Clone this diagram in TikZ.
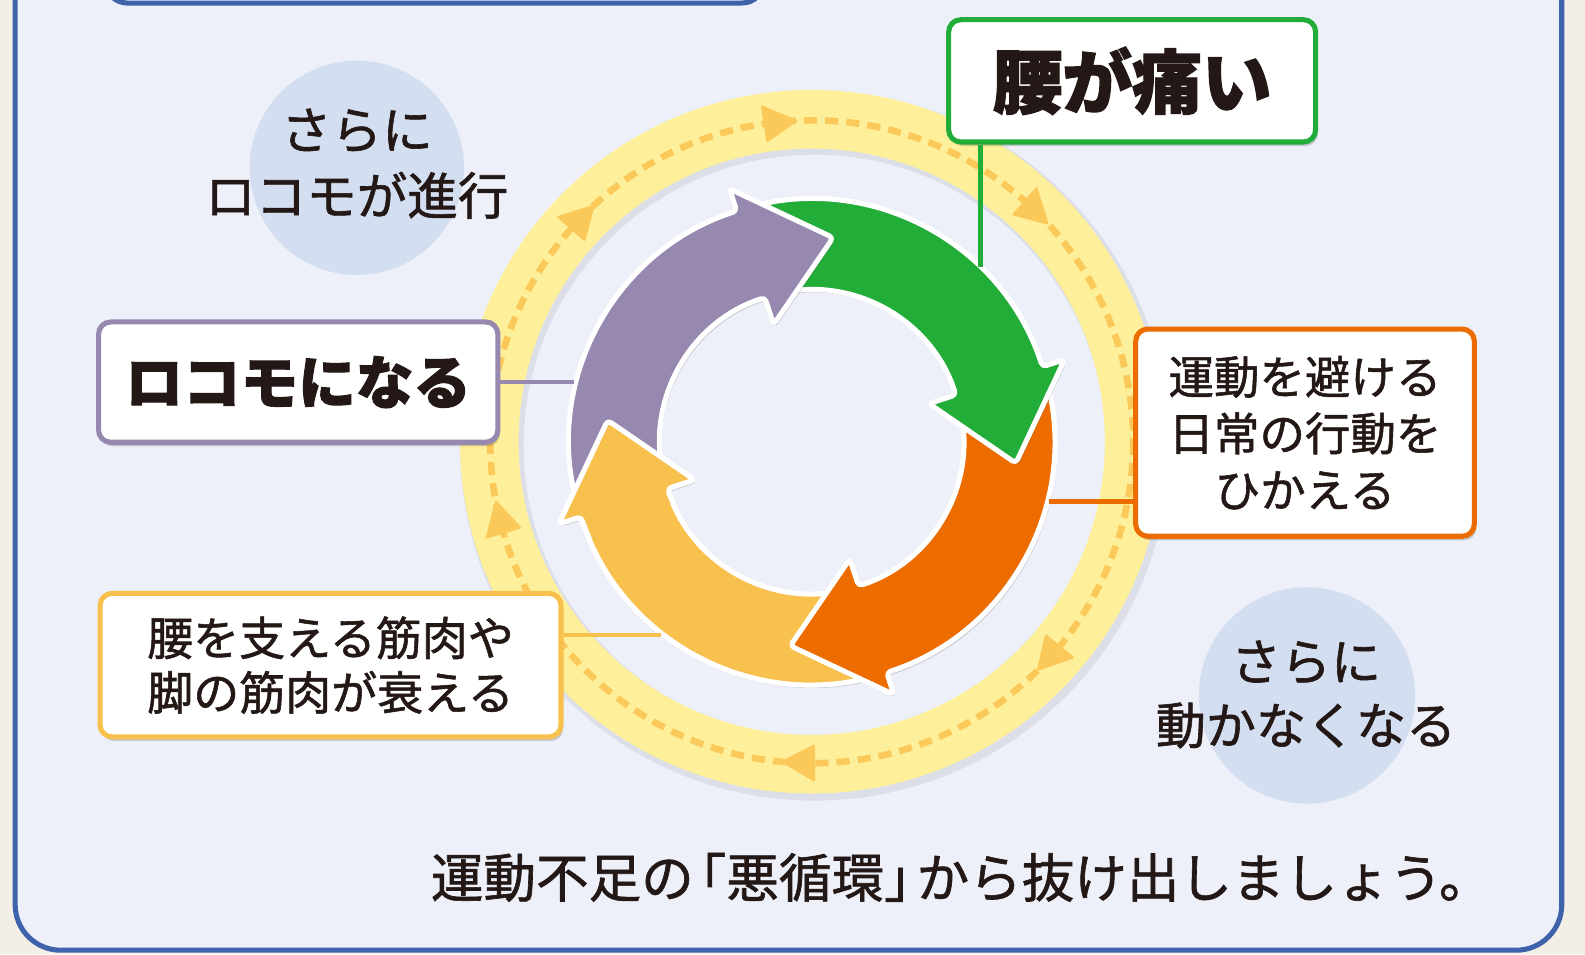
\documentclass[tikz,border=0pt]{standalone}
\usepackage{fontspec}
\setmainfont{Noto Sans CJK JP}[FakeBold=1.2]
\newfontfamily\jphead{Noto Sans CJK JP}[FakeBold=1.8]
\usetikzlibrary{shadows,calc}
\definecolor{paper}{HTML}{F3EFE7}
\definecolor{panel}{HTML}{EDF0F9}
\definecolor{panelblue}{HTML}{3F63AB}
\definecolor{bubble}{HTML}{D3DEF0}
\definecolor{band}{HTML}{FEEF9A}
\definecolor{dashc}{HTML}{FBC85A}
\definecolor{cgreen}{HTML}{22AC38}
\definecolor{corange}{HTML}{EC6C00}
\definecolor{cyellow}{HTML}{F8C04C}
\definecolor{cpurple}{HTML}{9688AE}
\definecolor{ink}{HTML}{231815}
\tikzset{
  arrowshadow/.style={drop shadow={shadow xshift=2pt, shadow yshift=-3pt, opacity=0.22, fill=black!70}},
  boxshadow/.style={drop shadow={shadow xshift=2pt, shadow yshift=-4pt, opacity=0.25, fill=black!70}},
  lbl/.style={draw, line width=5pt, rounded corners=12pt, fill=white, align=center, text=ink, inner sep=0pt, boxshadow},
  txt/.style={text=ink, align=center, inner sep=0pt},
  conn/.style={line width=4.5pt},
}
\newcommand\cyclearrow[2]{%
  \pgfmathsetmacro\tB{#1-24}%
  \pgfmathsetmacro\tS{#1-114}%
  \path[fill=#2, draw=white, line width=5pt, line join=round, rounded corners=4pt, arrowshadow]
    (\tS:240) arc[start angle=\tS, end angle=\tB, radius=240]
    -- (\tB:263) -- (#1:203) -- (\tB:122) -- (\tB:150)
    arc[start angle=\tB, end angle=\tS, radius=150] -- cycle;
}
\begin{document}
\begin{tikzpicture}[x=1pt, y=-1pt]
\useasboundingbox (0,0) rectangle (1568,944);
\fill[paper] (0,0) rectangle (1568,944);
% panel
\draw[panelblue, line width=5pt, fill=panel, rounded corners=45pt] (15,-80) rectangle (1545,940);
\draw[panelblue, line width=5pt, fill=panel, rounded corners=22pt] (104,-60) rectangle (756,3);
% bubbles
\fill[bubble] (353,166) circle[radius=106];
\fill[bubble] (1293,688) circle[radius=107];
% yellow band
\fill[black, opacity=0.07, even odd rule] (806,441) circle[radius=351] (806,441) circle[radius=288];
\fill[band, even odd rule] (803,437) circle[radius=348] (803,437) circle[radius=290];
\draw[dashc, line width=6.5pt, dash pattern=on 13pt off 8pt] (803,437) circle[radius=318];
\begin{scope}[shift={(803,437)}]
  \foreach \a in {264,314,42,92,166,224}
    \fill[dashc, rounded corners=2pt] ({\a+3.6}:318) -- ({\a-2.6}:337) -- ({\a-2.6}:299) -- cycle;
  % cycle arrows
  \cyclearrow{186}{cyellow}
  \cyclearrow{96}{corange}
  \cyclearrow{6}{cgreen}
  \cyclearrow{-84}{cpurple}
  % yellow head again on top of purple tail
  \fill[cyellow, rounded corners=4pt] (156:240) arc[start angle=156, end angle=162, radius=240]
    -- (162:263) -- (186:203) -- (162:122) -- (162:150)
    arc[start angle=162, end angle=156, radius=150] -- cycle;
  \draw[white, line width=5pt, line join=round, rounded corners=4pt] (156:240) arc[start angle=156, end angle=162, radius=240]
    -- (162:263) -- (186:203) -- (162:122) -- (162:150)
    arc[start angle=162, end angle=156, radius=150];
\end{scope}
% coordinates where the connectors meet the ring
\coordinate (gEnd) at (970,264);
\coordinate (pEnd) at (568,378);
\coordinate (oEnd) at (1038,496);
\coordinate (yEnd) at (654,628);
% boxes
\node[lbl, draw=cgreen, minimum width=363pt, minimum height=121pt, font=\jphead\bfseries\fontsize{69}{72}\selectfont] (gbox) at (1120,80) {腰が痛い};
\node[lbl, draw=cpurple, minimum width=395pt, minimum height=119pt, font=\jphead\bfseries\fontsize{57}{60}\selectfont] (pbox) at (295,378) {ロコモになる};
\node[lbl, draw=corange, minimum width=335pt, minimum height=205pt, font=\fontsize{45}{56}\selectfont] (obox) at (1291,428) {運動を避ける\\日常の行動を\\ひかえる};
\node[lbl, draw=cyellow, minimum width=456pt, minimum height=142pt, font=\fontsize{45.5}{54}\selectfont] (ybox) at (327,658) {腰を支える筋肉や\\脚の筋肉が衰える};
% connectors
\draw[conn, cgreen] (gEnd |- gbox.south) -- (gEnd);
\draw[conn, cpurple] (pbox.east) -- (pEnd);
\draw[conn, corange] (oEnd -| obox.west) -- (oEnd);
\draw[conn, cyellow] (yEnd -| ybox.east) -- (yEnd);
% bubble texts
\node[txt, font=\fontsize{50}{65}\selectfont] (b1) at (353,162) {さらに\\ロコモが進行};
\node[txt, font=\fontsize{49.5}{63}\selectfont] (b2) at (1292,687) {さらに\\動かなくなる};
% message
\node[txt, font=\fontsize{52}{55}\selectfont] (msg) at (951,868) {運動不足の\kern-0.38em「悪循環」\kern-0.38em から抜け出しましょう。};
\end{tikzpicture}
\end{document}
